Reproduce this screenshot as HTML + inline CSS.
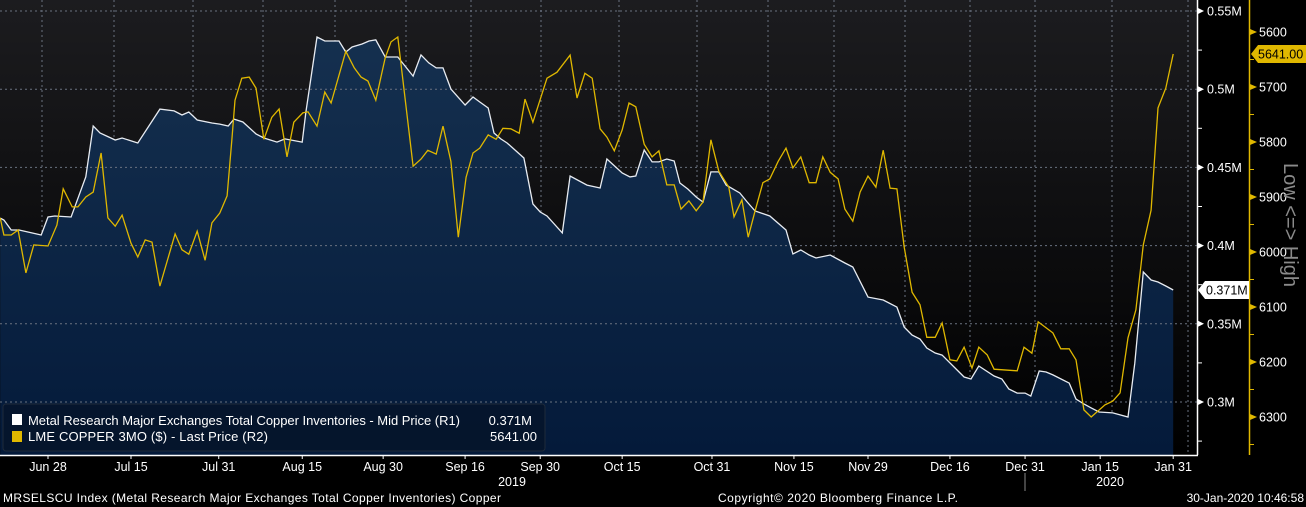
<!DOCTYPE html>
<html><head><meta charset="utf-8"><style>
html,body{margin:0;padding:0;background:#000;}
svg{display:block;font-family:"Liberation Sans",sans-serif;}
</style></head><body>
<svg id="chart" width="1306" height="507" viewBox="0 0 1306 507" xmlns="http://www.w3.org/2000/svg">
<defs>
<linearGradient id="bg" x1="0" y1="0" x2="0" y2="1"><stop offset="0" stop-color="#1c1c1f"/><stop offset="1" stop-color="#000"/></linearGradient>
<linearGradient id="fill" x1="0" y1="0" x2="0" y2="1"><stop offset="0" stop-color="#15304f"/><stop offset="1" stop-color="#041a3a"/></linearGradient>
</defs>
<rect x="0" y="0" width="1197" height="455" fill="url(#bg)"/>
<g id="grid"></g>
<g id="series"></g>
<g id="axes"></g>
</svg>
<script>
// Inventories (R1, thousand tonnes), day offsets from 2019-06-28
const invDays=[-9.1,-8.4,-7.0,-5.5,-1.3,0,1.3,4.4,7.2,8.6,9.9,12.8,14.1,17.1,21.3,24.0,25.5,26.8,28.4,31.2,32.7,34.3,35.4,37.1,39.6,41.1,43.6,45.1,48.4,49.1,51.2,52.7,55.4,56.7,57.9,59.8,61.1,62.4,64.2,66.6,69.5,71.0,72.5,73.9,75.2,76.7,79.4,80.9,82.2,83.8,84.9,86.2,87.4,90.6,92.3,93.7,95.0,97.9,99.4,102.6,105.1,106.4,109.3,110.8,111.9,113.5,115.0,116.3,117.8,119.2,120.3,121.8,123.4,124.7,126.2,127.7,129.1,131.7,133.1,134.6,137.4,140.5,141.8,143.3,144.9,146.2,148.9,151.7,153.2,156.1,159.0,161.6,163.0,164.5,166.0,167.3,168.9,170.2,174.4,175.7,177.2,180.1,181.6,182.9,184.5,186.0,187.1,188.7,190.0,191.3,194.4,195.7,197.2,198.6,200.1,202.7,205.6,206.9,208.5,210.0,211.3,212.8,214.2];
const invValues=[417.6,416.4,410.0,410.0,406.8,418.3,418.9,418.3,443.9,476.5,472.0,467.5,468.8,465.6,487.3,486.1,483.5,485.4,480.3,478.4,477.7,476.5,480.9,479.0,471.4,468.8,466.2,468.2,466.2,485.4,533.4,530.8,530.8,523.8,527.0,528.9,530.8,531.5,520.6,520.6,508.4,521.9,516.8,513.6,513.6,500.1,489.9,495.0,491.8,488.0,472.0,468.2,465.6,456.0,426.6,421.5,418.9,408.1,444.5,438.7,436.8,455.4,446.4,443.9,444.5,461.1,453.5,453.5,455.4,454.1,440.0,436.2,431.1,427.9,447.1,447.1,438.7,433.6,427.9,422.1,418.9,410.0,394.6,397.2,394.0,392.1,394.0,388.9,386.3,367.1,365.2,360.7,347.9,342.8,340.3,334.5,331.3,330.0,316.0,314.7,323.0,316.6,314.7,308.3,305.7,305.7,303.8,319.8,319.2,317.3,312.1,301.9,298.7,296.2,293.6,293.0,290.4,324.9,383.1,378.0,376.7,374.2,371.6];
// LME Copper 3M (R2, USD/t)
const cuDays=[-9.1,-8.4,-7.0,-5.7,-4.2,-2.7,0,1.7,2.9,4.6,5.7,7.2,8.6,10.1,11.4,12.8,14.1,15.8,17.1,18.5,19.8,21.3,24.2,25.5,26.8,28.4,29.9,31.2,32.7,34.1,35.0,35.6,36.9,38.3,39.6,41.1,42.6,44.0,45.5,46.8,48.5,49.5,51.2,52.7,53.9,56.7,58.3,59.6,60.9,62.4,64.2,65.3,66.6,69.5,71.0,72.3,73.9,75.2,76.7,78.1,79.6,80.9,82.2,83.8,85.3,86.6,88.1,89.7,90.8,92.3,95.0,96.9,99.4,100.7,102.2,103.6,105.1,106.4,107.8,109.3,110.6,111.9,113.5,115.0,116.3,117.8,119.2,120.5,122.0,123.4,124.7,126.2,127.7,129.6,130.6,132.1,133.3,134.6,136.1,137.4,139.0,140.5,141.8,143.3,144.9,146.2,147.5,148.9,150.4,151.7,153.2,154.6,156.1,157.6,159.0,160.3,161.6,163.0,164.5,166.0,167.3,168.9,170.2,171.7,173.0,174.4,175.9,177.2,178.8,180.1,184.5,185.8,187.3,188.5,191.3,192.8,194.4,195.7,197.2,198.6,201.2,202.7,204.1,205.6,207.1,208.5,210.0,211.3,212.8,214.2];
const cuValues=[5938,5969,5969,5960,6038,5987,5989,5951,5885,5918,5918,5900,5891,5820,5938,5953,5933,5984,6009,5978,5982,6062,5967,5996,6004,5962,6015,5947,5929,5898,5795,5724,5684,5682,5702,5795,5755,5740,5827,5764,5747,5745,5771,5709,5729,5635,5665,5682,5689,5724,5647,5618,5609,5844,5831,5815,5822,5771,5835,5973,5864,5820,5811,5787,5795,5775,5776,5784,5722,5764,5684,5673,5642,5720,5675,5684,5776,5791,5816,5778,5729,5736,5804,5827,5816,5878,5878,5922,5907,5925,5909,5796,5853,5882,5936,5905,5973,5925,5874,5867,5835,5811,5847,5827,5874,5874,5827,5855,5867,5922,5944,5891,5862,5882,5815,5884,5885,5991,6073,6096,6155,6155,6129,6196,6198,6173,6211,6173,6187,6213,6216,6173,6184,6127,6147,6176,6176,6196,6287,6300,6278,6271,6256,6156,6105,5987,5924,5738,5702,5640];
const xTickLabels=["Jun 28","Jul 15","Jul 31","Aug 15","Aug 30","Sep 16","Sep 30","Oct 15","Oct 31","Nov 15","Nov 29","Dec 16","Dec 31","Jan 15","Jan 31"];
const xTickDays=[0,15.8,32.5,48.4,63.8,79.4,93.7,109.3,126.4,142.0,156.1,171.7,186.0,200.3,214.2];
const r1Ticks=[300,350,400,450,500,550];
const r1TickLabels=["0.3M","0.35M","0.4M","0.45M","0.5M","0.55M"];
const r2Ticks=[5600,5700,5800,5900,6000,6100,6200,6300];
const lastInv="0.371M", lastCu="5641.00";

const NS="http://www.w3.org/2000/svg";
const xS=d=>48+5.253*d;
const y1=v=>11+(550-v)*78.2/50;
const y2=p=>32+(p-5600)*0.55;
const BOT=455;
function mk(tag,attrs,parent,text){const e=document.createElementNS(NS,tag);for(const k in attrs)e.setAttribute(k,attrs[k]);if(text!==undefined)e.textContent=text;parent.appendChild(e);return e;}
const grid=document.getElementById('grid'),ser=document.getElementById('series'),ax=document.getElementById('axes');

// vertical gridlines (chart decoration)
[42,114,193,263,335,406,471,541,619,697,768,834,905,970,1035,1112,1188].forEach(x=>{
 const l=mk('line',{x1:x,x2:x,y1:0,y2:BOT,stroke:'#6a7280','stroke-width':1,'stroke-dasharray':'2,3'},grid);
 
 
});

// area + line for inventories
let pts=invDays.map((d,i)=>xS(d).toFixed(1)+','+y1(invValues[i]).toFixed(1));
const area=mk('path',{d:'M'+xS(invDays[0])+','+BOT+' L'+pts.join(' L')+' L'+xS(invDays[invDays.length-1])+','+BOT+' Z',fill:'url(#fill)'},ser);



r1Ticks.forEach(v=>{
 const l=mk('line',{x1:0,x2:1197,y1:y1(v),y2:y1(v),stroke:'#6a7280','stroke-width':1,'stroke-dasharray':'2,3'},ser);
 
 
});

const invLine=mk('polyline',{points:pts.join(' '),fill:'none',stroke:'#e8ecf2','stroke-width':1.3},ser);


const cuLine=mk('polyline',{points:cuDays.map((d,i)=>xS(d).toFixed(1)+','+y2(cuValues[i]).toFixed(1)).join(' '),fill:'none',stroke:'#e0b800','stroke-width':1.3},ser);



// legend
const lg=mk('g',{},ser);


mk('rect',{x:3,y:404,width:542,height:47,rx:3,fill:'#05152b','fill-opacity':0.9,stroke:'#1e2a3a'},lg);
mk('rect',{x:12,y:414,width:10,height:11,fill:'#fff'},lg);
mk('rect',{x:12,y:431,width:10,height:11,fill:'#e0b800'},lg);
const t1=mk('text',{x:28,y:425,fill:'#fff','font-size':13,textLength:432},lg,'Metal Research Major Exchanges Total Copper Inventories - Mid Price (R1)');


mk('text',{x:532,y:425,fill:'#fff','font-size':13,'text-anchor':'end'},lg,lastInv);
const t2=mk('text',{x:28,y:441,fill:'#fff','font-size':13,textLength:240},lg,'LME COPPER 3MO ($) - Last Price (R2)');


mk('text',{x:537,y:441,fill:'#fff','font-size':13,'text-anchor':'end'},lg,lastCu);

// axes
mk('line',{x1:1197.5,x2:1197.5,y1:0,y2:BOT,stroke:'#fff','stroke-width':1.5},ax);
mk('line',{x1:0,x2:1198,y1:BOT+0.5,y2:BOT+0.5,stroke:'#fff','stroke-width':1.5},ax);
mk('line',{x1:1249.5,x2:1249.5,y1:0,y2:BOT,stroke:'#e0b800','stroke-width':1.5},ax);
r1Ticks.forEach((v,i)=>{
 const y=y1(v);
 mk('path',{d:`M1198,${y-3} L1204,${y} L1198,${y+3}Z`,fill:'#fff'},ax);
 mk('line',{x1:1198,x2:1202,y1:y+39.1,y2:y+39.1,stroke:'#fff'},ax);
 const t=mk('text',{x:1207,y:y+4.5,fill:'#fff','font-size':12.5},ax,r1TickLabels[i]);
 
 
});
mk('line',{x1:1198,x2:1202,y1:y1(550)-39.1,y2:y1(550)-39.1,stroke:'#fff'},ax);
r2Ticks.forEach(p=>{
 const y=y2(p);
 mk('path',{d:`M1250,${y-3} L1257,${y} L1250,${y+3}Z`,fill:'#e0b800'},ax);
 mk('line',{x1:1250,x2:1254,y1:y+27.5,y2:y+27.5,stroke:'#e0b800'},ax);
 const t=mk('text',{x:1259,y:y+4.5,fill:'#fff','font-size':12.5},ax,String(p));
 
 
});
// last value tags
const yi=y1(invValues[invValues.length-1]);
const tagI=mk('path',{d:`M1198,${yi} L1205,${yi-9} L1249,${yi-9} L1249,${yi+9} L1205,${yi+9}Z`,fill:'#fff'},ax);


mk('text',{x:1206,y:yi+4.5,fill:'#000','font-size':12.5},ax,lastInv);
const yc=y2(cuValues[cuValues.length-1]);
const tagC=mk('path',{d:`M1251,${yc} L1258,${yc-9} L1306,${yc-9} L1306,${yc+9} L1258,${yc+9}Z`,fill:'#e0b800'},ax);


mk('text',{x:1258,y:yc+4.5,fill:'#000','font-size':12.5},ax,lastCu);
const lh=mk('text',{x:1284,y:225,fill:'#8a8a8a','font-size':20,'text-anchor':'middle',transform:'rotate(90 1284 225)'},ax,'Low <=> High');



xTickLabels.forEach((lab,i)=>{
 const x=xS(xTickDays[i]);
 mk('line',{x1:x,x2:x,y1:BOT,y2:BOT+4,stroke:'#fff'},ax);
 const t=mk('text',{x:x,y:471,fill:'#fff','font-size':12.5,'text-anchor':'middle'},ax,lab);
 
 
});
mk('text',{x:512,y:486,fill:'#fff','font-size':12.5,'text-anchor':'middle'},ax,'2019');
mk('text',{x:1110,y:486,fill:'#fff','font-size':12.5,'text-anchor':'middle'},ax,'2020');
mk('line',{x1:1025,x2:1025,y1:473,y2:491,stroke:'#888'},ax);
const f1=mk('text',{x:3,y:502,fill:'#fff','font-size':12,textLength:498},ax,'MRSELSCU Index (Metal Research Major Exchanges Total Copper Inventories) Copper');


const f2=mk('text',{x:718,y:502,fill:'#fff','font-size':12,textLength:240},ax,'Copyright© 2020 Bloomberg Finance L.P.');


const f3=mk('text',{x:1304,y:502,fill:'#fff','font-size':12,'text-anchor':'end'},ax,'30-Jan-2020 10:46:58');


</script>
</body></html>
